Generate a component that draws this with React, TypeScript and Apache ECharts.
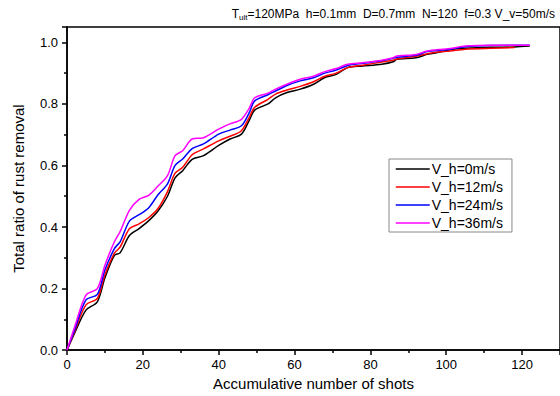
import React, { useEffect, useRef } from "react";
import * as echarts from "echarts";

const shots = [0, 2, 5, 8, 10, 12.5, 14, 16.5, 19, 21.5, 24, 26.5, 28.5, 30.5, 33, 36, 40, 43, 46, 48, 49.5, 53, 55, 58, 61.5, 65, 68, 71, 74, 78, 83, 86, 87, 92, 95, 99, 101, 105, 112, 118, 122];

const vh0 = [0, 0.055, 0.13, 0.157, 0.235, 0.308, 0.316, 0.373, 0.395, 0.42, 0.452, 0.5, 0.56, 0.583, 0.62, 0.632, 0.665, 0.686, 0.702, 0.745, 0.78, 0.8, 0.82, 0.837, 0.848, 0.864, 0.886, 0.896, 0.918, 0.923, 0.929, 0.937, 0.945, 0.95, 0.961, 0.97, 0.977, 0.981, 0.984, 0.985, 0.988];
const vh12 = [0, 0.06, 0.147, 0.168, 0.245, 0.315, 0.335, 0.395, 0.41, 0.43, 0.46, 0.515, 0.575, 0.594, 0.635, 0.654, 0.68, 0.695, 0.713, 0.755, 0.789, 0.815, 0.832, 0.845, 0.857, 0.872, 0.89, 0.9, 0.918, 0.926, 0.936, 0.942, 0.946, 0.955, 0.963, 0.97, 0.972, 0.978, 0.981, 0.983, null];
const vh24 = [0, 0.065, 0.163, 0.181, 0.26, 0.33, 0.352, 0.42, 0.44, 0.462, 0.505, 0.54, 0.6, 0.621, 0.655, 0.67, 0.702, 0.715, 0.729, 0.77, 0.81, 0.83, 0.842, 0.86, 0.875, 0.885, 0.9, 0.91, 0.925, 0.932, 0.94, 0.948, 0.952, 0.958, 0.97, 0.975, 0.978, 0.986, 0.99, 0.991, 0.991];
const vh36 = [0, 0.075, 0.179, 0.2, 0.276, 0.352, 0.385, 0.455, 0.49, 0.503, 0.533, 0.567, 0.632, 0.648, 0.686, 0.69, 0.718, 0.735, 0.75, 0.785, 0.82, 0.835, 0.848, 0.864, 0.88, 0.89, 0.905, 0.915, 0.929, 0.934, 0.942, 0.95, 0.956, 0.961, 0.972, 0.978, 0.98, 0.988, 0.991, 0.991, 0.991];

const seriesNames = ["V_h=0m/s", "V_h=12m/s", "V_h=24m/s", "V_h=36m/s"];
const seriesColors = ["#000000", "#ff0000", "#0000ff", "#ff00ff"];
const seriesValues = [vh0, vh12, vh24, vh36];

const FONT = "'Liberation Sans', Arial, sans-serif";

export default function App() {
  const ref = useRef<HTMLDivElement>(null);
  useEffect(() => {
    if (!ref.current) return;
    const chart = echarts.init(ref.current, null, { renderer: "svg" });
    const axisCommon = {
      axisLine: { show: true, lineStyle: { color: "#000", width: 1.5 } },
      axisTick: { show: true, inside: false, length: 5, lineStyle: { color: "#000", width: 1.5 } },
      minorTick: { show: true, splitNumber: 2, length: 3, lineStyle: { color: "#000", width: 1.5 } },
      splitLine: { show: false },
      nameTextStyle: { fontFamily: FONT, fontSize: 15, color: "#000" },
    };
    chart.setOption({
      animation: false,
      backgroundColor: "#fff",
      textStyle: { fontFamily: FONT },
      title: {
        text: "T{sub|ult}=120MPa  h=0.1mm  D=0.7mm  N=120  f=0.3 V_v=50m/s",
        right: 5,
        top: 6,
        padding: 0,
        textStyle: {
          fontFamily: FONT,
          fontSize: 12,
          fontWeight: "normal",
          color: "#000",
          rich: {
            sub: { fontFamily: FONT, fontSize: 8, color: "#000", padding: [7, 0, 0, 0] },
          },
        },
      },
      grid: {
        left: 67,
        top: 27,
        bottom: 44,
        right: -13,
        show: true,
        borderColor: "#000",
        borderWidth: 1.5,
        containLabel: false,
      },
      legend: {
        orient: "vertical",
        left: 389,
        top: 159,
        padding: [3, 9, 2, 6],
        itemWidth: 34,
        itemHeight: 14,
        itemGap: 4,
        borderColor: "#888",
        borderWidth: 1,
        itemStyle: { opacity: 0, borderWidth: 0 },
        lineStyle: { width: 1.5 },
        textStyle: { fontFamily: FONT, fontSize: 14, color: "#000", padding: [0, 0, 0, -3] },
        data: seriesNames,
      },
      xAxis: {
        type: "value",
        min: 0,
        max: 130,
        interval: 20,
        name: "Accumulative number of shots",
        nameLocation: "middle",
        nameGap: 24,
        ...axisCommon,
        axisLabel: { fontFamily: FONT, fontSize: 13, color: "#000", margin: 8, showMaxLabel: false },
      },
      yAxis: {
        type: "value",
        min: 0,
        max: 1.05,
        interval: 0.2,
        name: "Total ratio of rust removal",
        nameLocation: "middle",
        nameGap: 41,
        ...axisCommon,
        axisLabel: {
          fontFamily: FONT,
          fontSize: 13,
          color: "#000",
          margin: 9,
          showMaxLabel: false,
          formatter: (v: number) => v.toFixed(1),
        },
      },
      series: seriesNames.map((name, i) => ({
        name,
        type: "line",
        symbol: "none",
        smooth: 0.3,
        connectNulls: false,
        lineStyle: { color: seriesColors[i], width: 1.5 },
        itemStyle: { color: seriesColors[i] },
        data: shots.map((x, j) => [x, seriesValues[i][j]]).filter((p) => p[1] !== null),
      })),
    });
    return () => chart.dispose();
  }, []);
  return <div ref={ref} style={{ position: "fixed", left: 0, top: 0, width: 560, height: 396 }} />;
}
